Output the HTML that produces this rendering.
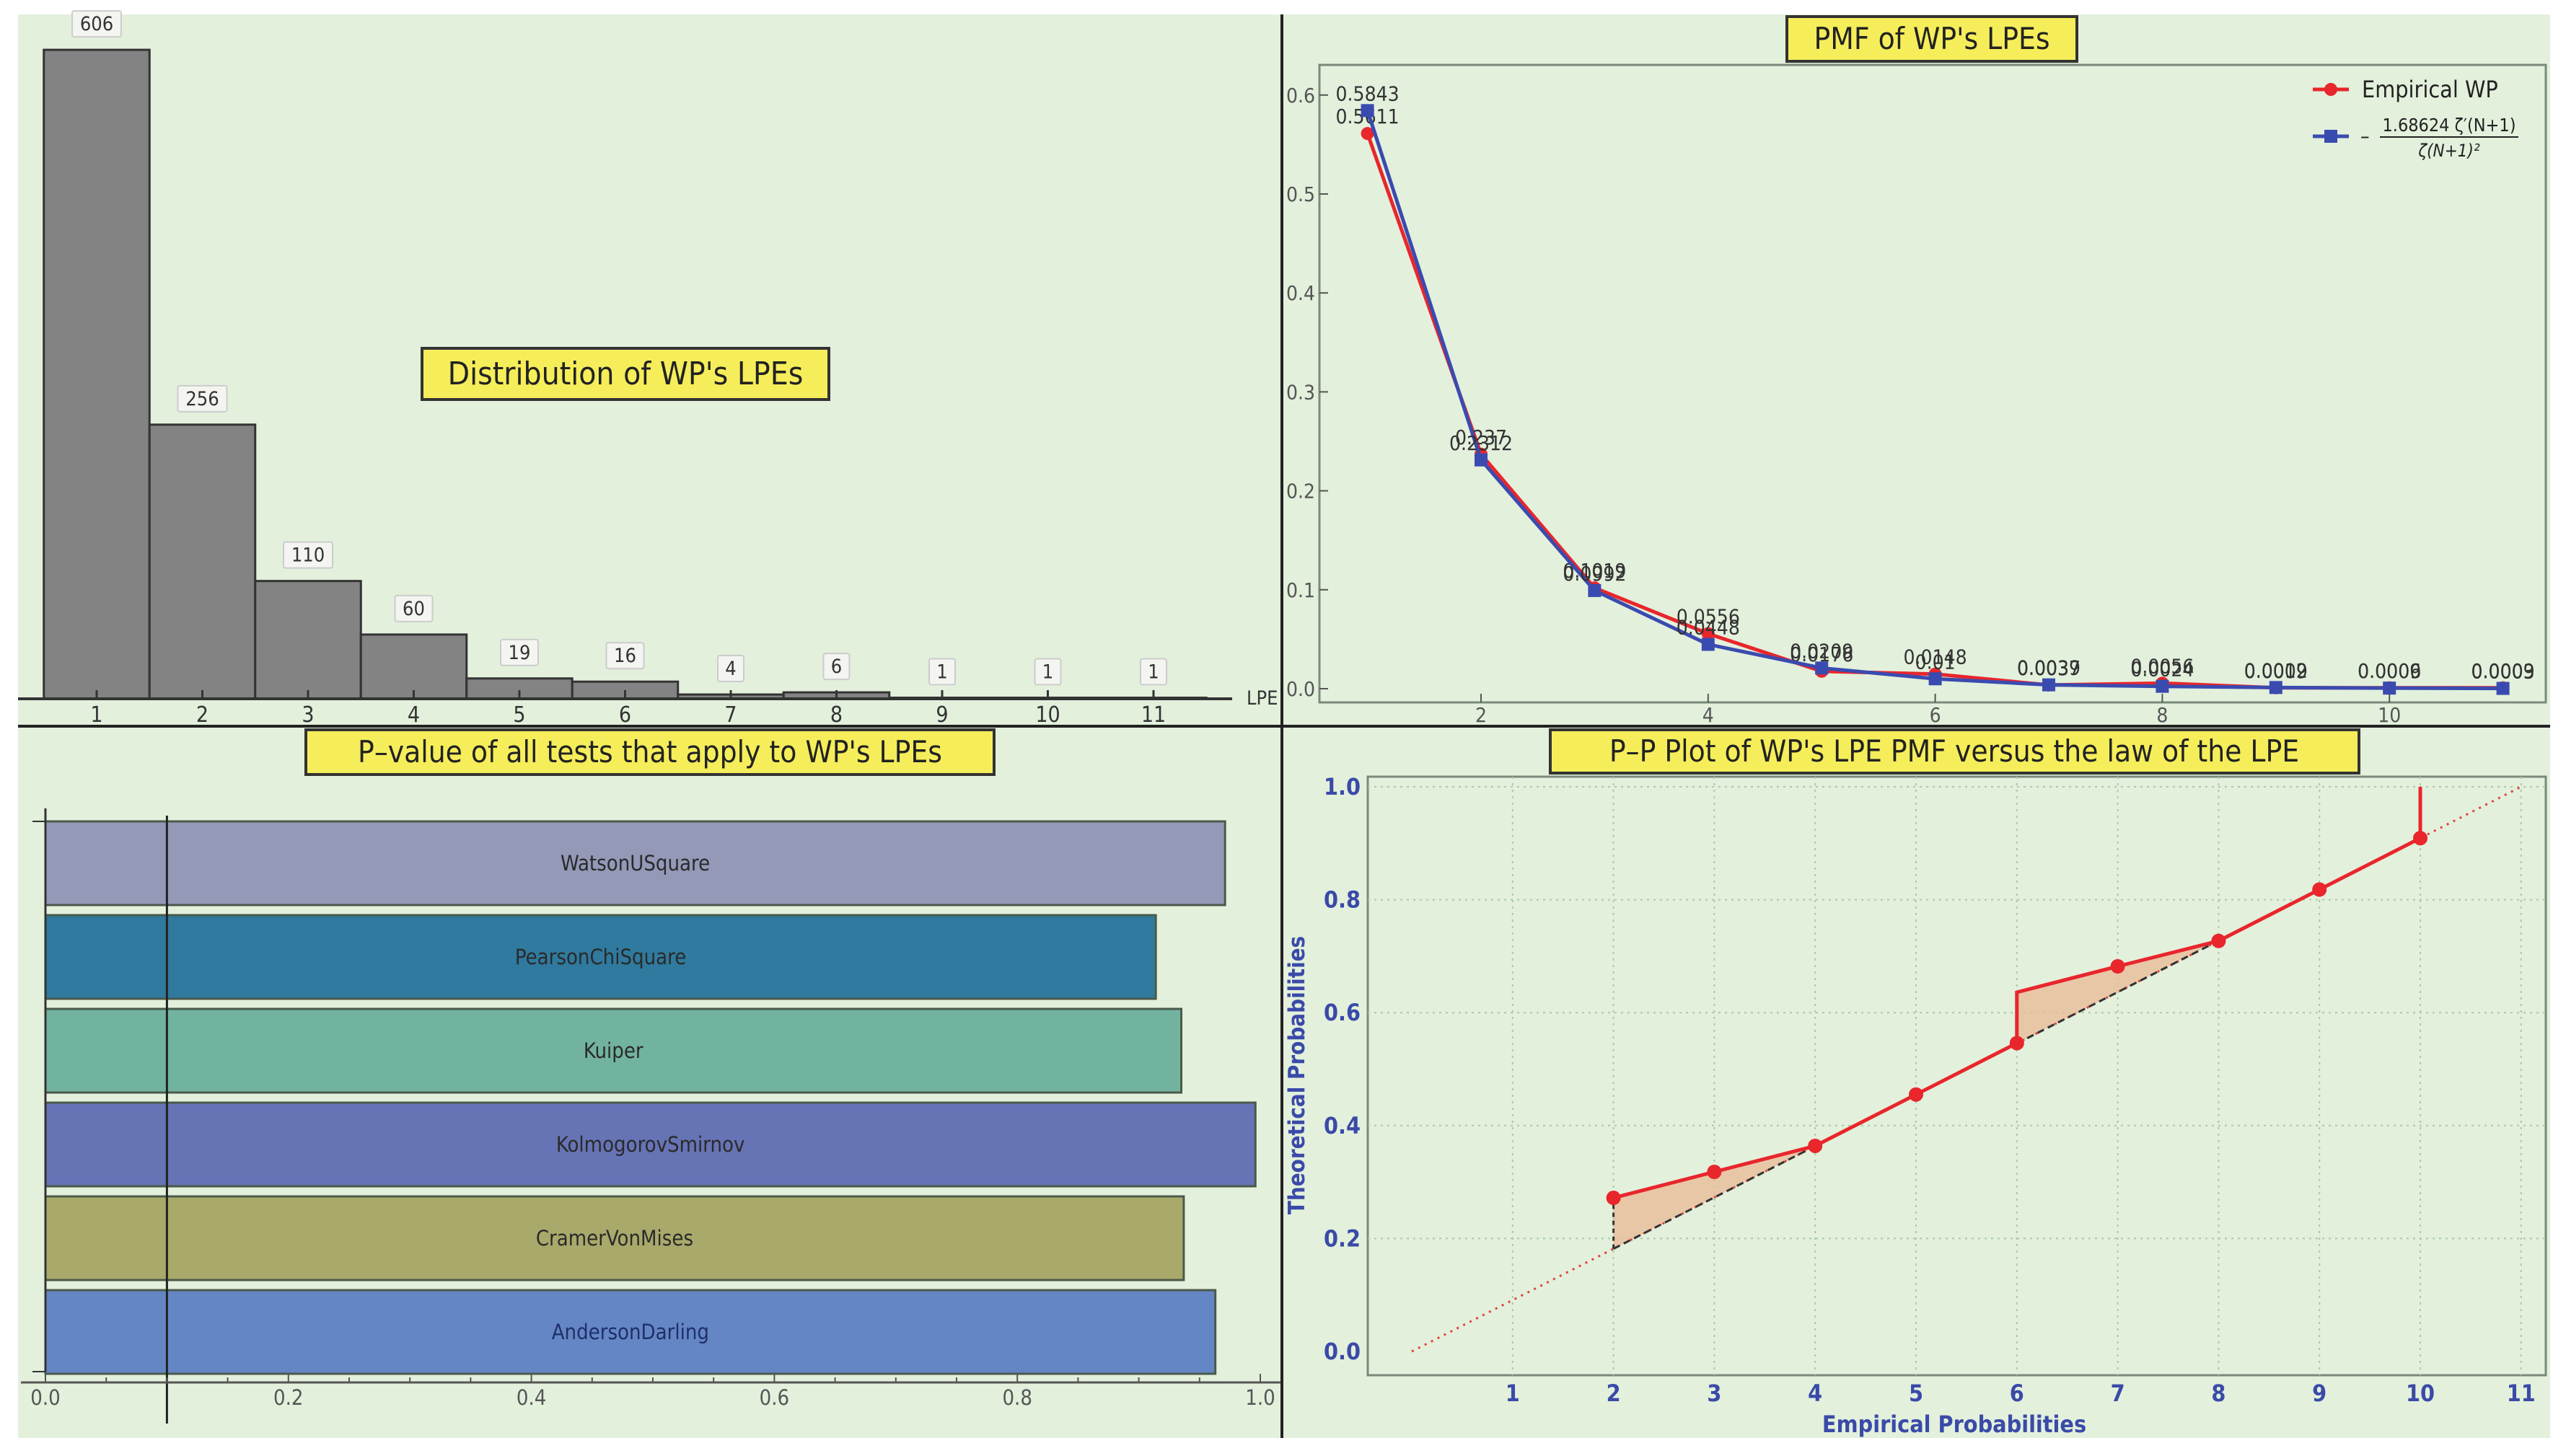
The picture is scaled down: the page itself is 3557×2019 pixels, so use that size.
<!DOCTYPE html>
<html><head><meta charset="utf-8"><style>
html,body{margin:0;padding:0;background:#fff;}
svg{display:block;font-family:"DejaVu Sans Condensed","DejaVu Sans","Liberation Sans",sans-serif;}
</style></head><body>
<svg id="svg" width="3557" height="2019" viewBox="0 0 3557 2019" xmlns="http://www.w3.org/2000/svg">
<rect x="25" y="20" width="3510" height="1974" fill="#e3f0dc"/>
<g id="hist"></g>
<g id="pmf"></g>
<g id="pval"></g>
<g id="pp"></g>
<line x1="25" y1="1007" x2="3535" y2="1007" stroke="#222" stroke-width="4"/>
<line x1="1777" y1="20" x2="1777" y2="1994" stroke="#222" stroke-width="4"/>
</svg>
<script>
// ---------- data ----------
const histCats = [1,2,3,4,5,6,7,8,9,10,11];
const histCounts = [606,256,110,60,19,16,4,6,1,1,1];
const pmfN = [1,2,3,4,5,6,7,8,9,10,11];
const pmfEmp = [0.5611,0.237,0.1019,0.0556,0.0176,0.0148,0.0037,0.0056,0.0009,0.0009,0.0009];
const pmfTheo = [0.5843,0.2312,0.0992,0.0448,0.0209,0.01,0.0039,0.0024,0.0012,0.0006,0.0003];
const pmfYTicks = [0,0.1,0.2,0.3,0.4,0.5,0.6];
const pmfXTicks = [2,4,6,8,10];
const testNames = ["WatsonUSquare","PearsonChiSquare","Kuiper","KolmogorovSmirnov","CramerVonMises","AndersonDarling"];
const testPValues = [0.971,0.914,0.935,0.996,0.937,0.963];
const testColors = ["#9499b8","#2f7a9e","#72b39f","#6673b5","#a9a96b","#6586c4"];
const pvalThreshold = 0.1;
const pvalTicks = [0,0.2,0.4,0.6,0.8,1.0];
const ppX = [2,3,4,5,6,6,7,8,9,10,10];
const ppY = [0.272,0.318,0.364,0.455,0.546,0.636,0.682,0.727,0.818,0.909,1.0];
const ppPointsX = [2,3,4,5,6,7,8,9,10];
const ppPointsY = [0.272,0.318,0.364,0.455,0.546,0.682,0.727,0.818,0.909];
const ppXTicks = [1,2,3,4,5,6,7,8,9,10,11];
const ppYTicks = [0,0.2,0.4,0.6,0.8,1.0];

const NS="http://www.w3.org/2000/svg";
function mk(parent,tag,attrs,text){const e=document.createElementNS(NS,tag);for(const k in attrs)e.setAttribute(k,attrs[k]);if(text!==undefined)e.textContent=text;parent.appendChild(e);return e;}
function fmt(v){return String(+v.toFixed(4));}

// ---------- histogram ----------
(function(){
const g=document.getElementById('hist');
const xs=c=>134+146.5*(c-1), y0=969, ys=v=>y0-v*1.485;
histCats.forEach((c,i)=>{
  const r=mk(g,'rect',{x:xs(c)-73.25,y:ys(histCounts[i]),width:146.5,height:y0-ys(histCounts[i]),fill:'#838383',stroke:'#333','stroke-width':3});
  
  
  const lw=String(histCounts[i]).length*16+20;
  const b=mk(g,'rect',{x:xs(c)-lw/2,y:ys(histCounts[i])-54,width:lw,height:36,fill:'#f4f4f0',stroke:'#ccc','stroke-width':2,rx:3});
  
  
  const t=mk(g,'text',{x:xs(c),y:ys(histCounts[i])-27,'font-size':27,'text-anchor':'middle',fill:'#333'},histCounts[i]);
  
  
  mk(g,'line',{x1:xs(c),y1:y0,x2:xs(c),y2:y0-12,stroke:'#333','stroke-width':3});
  const tl=mk(g,'text',{x:xs(c),y:1001,'font-size':30,'text-anchor':'middle',fill:'#333'},c);
  
  
});
const ax=mk(g,'line',{x1:25,y1:y0,x2:1708,y2:y0,stroke:'#333','stroke-width':4});


const al=mk(g,'text',{x:1728,y:977,'font-size':27,fill:'#333'},'LPE');


const tb=mk(g,'rect',{x:585,y:483,width:564,height:71,fill:'#f5ee5a',stroke:'#333','stroke-width':4});


const tt=mk(g,'text',{x:867,y:533,'font-size':44,'text-anchor':'middle',fill:'#222'},"Distribution of WP's LPEs");


})();

// ---------- PMF ----------
(function(){
const g=document.getElementById('pmf');
const xs=n=>1895.6+157.4*(n-1), ys=v=>955-v*1372;
const fr=mk(g,'rect',{x:1829,y:90,width:1700,height:884,fill:'none',stroke:'#7a8a7a','stroke-width':3});


pmfYTicks.forEach(v=>{
  mk(g,'line',{x1:1829,y1:ys(v),x2:1841,y2:ys(v),stroke:'#555','stroke-width':2});
  const t=mk(g,'text',{x:1823,y:ys(v)+10,'font-size':28,'text-anchor':'end',fill:'#555'},v.toFixed(1));
  
  
});
pmfXTicks.forEach(v=>{
  mk(g,'line',{x1:xs(v),y1:974,x2:xs(v),y2:962,stroke:'#555','stroke-width':2});
  const t=mk(g,'text',{x:xs(v),y:1001,'font-size':28,'text-anchor':'middle',fill:'#555'},v);
  
  
});
const series=[[pmfEmp,'#e8262c','circle','empirical'],[pmfTheo,'#3a4bb0','square','theoretical']];
series.forEach(([d,c,shape,nm])=>{
  const p=mk(g,'polyline',{points:d.map((v,i)=>xs(pmfN[i])+','+ys(v)).join(' '),fill:'none',stroke:c,'stroke-width':5});
  
  
  d.forEach((v,i)=>{
    let m;
    if(shape==='circle') m=mk(g,'circle',{cx:xs(pmfN[i]),cy:ys(v),r:9,fill:c});
    else m=mk(g,'rect',{x:xs(pmfN[i])-9,y:ys(v)-9,width:18,height:18,fill:c});
    
    
    const t=mk(g,'text',{x:xs(pmfN[i]),y:ys(v)-14,'font-size':28,'text-anchor':'middle',fill:'#333'},fmt(v));
    
    
  });
});
const tb=mk(g,'rect',{x:2477,y:23,width:402,height:62,fill:'#f5ee5a',stroke:'#333','stroke-width':4});


const tt=mk(g,'text',{x:2678,y:68,'font-size':42,'text-anchor':'middle',fill:'#222'},"PMF of WP's LPEs");


const lg=mk(g,'g',{});


mk(lg,'line',{x1:3206,y1:124,x2:3256,y2:124,stroke:'#e8262c','stroke-width':5});
mk(lg,'circle',{cx:3231,cy:124,r:9,fill:'#e8262c'});
const l1=mk(lg,'text',{x:3274,y:135,'font-size':32,fill:'#222'},'Empirical WP');


mk(lg,'line',{x1:3206,y1:189,x2:3256,y2:189,stroke:'#3a4bb0','stroke-width':5});
mk(lg,'rect',{x:3222,y:180,width:18,height:18,fill:'#3a4bb0'});
mk(lg,'text',{x:3272,y:198,'font-size':28,fill:'#222'},'–');
const l2=mk(lg,'text',{x:3395,y:182,'font-size':25,'text-anchor':'middle',fill:'#222'},'1.68624 ζ′(N+1)');


mk(lg,'line',{x1:3299,y1:190,x2:3491,y2:190,stroke:'#222','stroke-width':2});
mk(lg,'text',{x:3395,y:217,'font-size':24,'text-anchor':'middle',fill:'#222','font-style':'italic'},'ζ(N+1)²');
})();

// ---------- P-values ----------
(function(){
const g=document.getElementById('pval');
const xs=v=>63+v*1684;
testNames.forEach((n,i)=>{
  const y=1139+i*130;
  const r=mk(g,'rect',{x:xs(0),y:y,width:xs(testPValues[i])-xs(0),height:116,fill:testColors[i],stroke:'#4a5a4a','stroke-width':3});
  
  
  const t=mk(g,'text',{x:(xs(0)+xs(testPValues[i]))/2,y:y+68,'font-size':29,'text-anchor':'middle',fill:n==='AndersonDarling'?'#1f2f6a':'#2a2a2a'},n);
  
  
});
const va=mk(g,'line',{x1:63,y1:1121,x2:63,y2:1902,stroke:'#333','stroke-width':3});


mk(g,'line',{x1:45,y1:1139,x2:63,y2:1139,stroke:'#333','stroke-width':2});
mk(g,'line',{x1:45,y1:1902,x2:63,y2:1902,stroke:'#333','stroke-width':2});
const th=mk(g,'line',{x1:xs(pvalThreshold),y1:1131,x2:xs(pvalThreshold),y2:1974,stroke:'#222','stroke-width':3});


const xa=mk(g,'line',{x1:29,y1:1917,x2:1775,y2:1917,stroke:'#555','stroke-width':3});


for(let k=0;k<=20;k++){const v=k*0.05;mk(g,'line',{x1:xs(v),y1:1917,x2:xs(v),y2:1917-(k%4===0?12:7),stroke:'#555','stroke-width':2});}
pvalTicks.forEach(v=>{
  const t=mk(g,'text',{x:xs(v),y:1948,'font-size':29,'text-anchor':'middle',fill:'#555'},v.toFixed(1));
  
  
});
const tb=mk(g,'rect',{x:424,y:1012,width:954,height:62,fill:'#f5ee5a',stroke:'#333','stroke-width':4});


const tt=mk(g,'text',{x:901,y:1057,'font-size':42,'text-anchor':'middle',fill:'#222'},"P–value of all tests that apply to WP's LPEs");


})();

// ---------- P-P plot ----------
(function(){
const g=document.getElementById('pp');
const xs=v=>1957+139.8*v, ys=v=>1874-783*v;
const fr=mk(g,'rect',{x:1896,y:1077,width:1633,height:830,fill:'none',stroke:'#7a8a7a','stroke-width':3});


ppXTicks.forEach(v=>{
  const l=mk(g,'line',{x1:xs(v),y1:1077,x2:xs(v),y2:1907,stroke:'#a9c9a9','stroke-width':2,'stroke-dasharray':'3,6'});
  
  
  const t=mk(g,'text',{x:xs(v),y:1943,'font-size':32,'font-weight':'bold','text-anchor':'middle',fill:'#3a4aa8'},v);
  
  
});
ppYTicks.forEach(v=>{
  if(v>0){const l=mk(g,'line',{x1:1896,y1:ys(v),x2:3529,y2:ys(v),stroke:'#a9c9a9','stroke-width':2,'stroke-dasharray':'3,6'});
  
  }
  const t=mk(g,'text',{x:1886,y:ys(v)+11,'font-size':32,'font-weight':'bold','text-anchor':'end',fill:'#3a4aa8'},v.toFixed(1));
  
  
});
function region(a,b){
  const pts=[];ppX.forEach((x,i)=>{if(x>=a&&x<=b)pts.push(xs(x)+','+ys(ppY[i]));});
  pts.push(xs(b)+','+ys(b/11));pts.push(xs(a)+','+ys(a/11));
  const p=mk(g,'polygon',{points:pts.join(' '),fill:'#e9b996',opacity:0.75});
  
  
}
region(2,4);region(6,8);
const dg=mk(g,'line',{x1:xs(0),y1:ys(0),x2:xs(11),y2:ys(1),stroke:'#e0443c','stroke-width':3,'stroke-dasharray':'3,7'});


mk(g,'line',{x1:xs(2),y1:ys(2/11),x2:xs(4),y2:ys(4/11),stroke:'#333','stroke-width':3,'stroke-dasharray':'10,6'});
mk(g,'line',{x1:xs(6),y1:ys(6/11),x2:xs(8),y2:ys(8/11),stroke:'#333','stroke-width':3,'stroke-dasharray':'10,6'});
mk(g,'line',{x1:xs(2),y1:ys(2/11),x2:xs(2),y2:ys(ppY[0]),stroke:'#333','stroke-width':3,'stroke-dasharray':'6,5'});
const pl=mk(g,'polyline',{points:ppX.map((x,i)=>xs(x)+','+ys(ppY[i])).join(' '),fill:'none',stroke:'#e8262c','stroke-width':5});


ppPointsX.forEach((x,i)=>{
  const c=mk(g,'circle',{cx:xs(x),cy:ys(ppPointsY[i]),r:10,fill:'#e8262c'});
  
  
});
const yt=mk(g,'text',{x:0,y:0,'font-size':31,'font-weight':'bold','text-anchor':'middle',fill:'#3a4aa8',transform:'translate(1808,1491) rotate(-90)'},'Theoretical Probabilities');


const xt=mk(g,'text',{x:2709,y:1986,'font-size':32,'font-weight':'bold','text-anchor':'middle',fill:'#3a4aa8'},'Empirical Probabilities');


const tb=mk(g,'rect',{x:2149,y:1012,width:1121,height:60,fill:'#f5ee5a',stroke:'#333','stroke-width':4});


const tt=mk(g,'text',{x:2709,y:1056,'font-size':42,'text-anchor':'middle',fill:'#222'},"P–P Plot of WP's LPE PMF versus the law of the LPE");


})();
</script>
</body></html>
